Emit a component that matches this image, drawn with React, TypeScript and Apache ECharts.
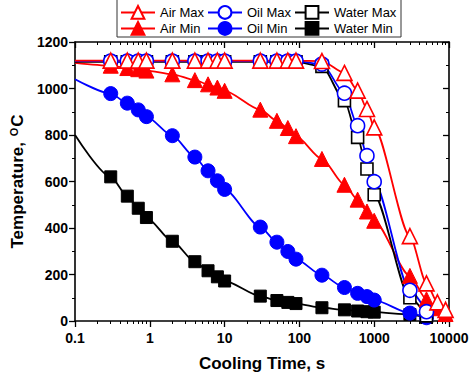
import React, { useEffect, useRef } from "react";
import * as echarts from "echarts";

// Cooling times (s)
const timesAir = [0.1, 0.3, 0.5, 0.7, 0.9, 2, 4, 6, 8, 10, 30, 50, 70, 90, 200, 400, 600, 800, 1000, 3000, 5000, 7000, 9000];
const timesOil = [0.1, 0.3, 0.5, 0.7, 0.9, 2, 4, 6, 8, 10, 30, 50, 70, 90, 200, 400, 600, 800, 1000, 3000, 5000];
const timesWater = [0.1, 0.3, 0.5, 0.7, 0.9, 2, 4, 6, 8, 10, 30, 50, 70, 90, 200, 400, 600, 800, 1000, 3000, 5000];

// Temperatures (°C)
const airMax = [1120, 1120, 1120, 1120, 1120, 1120, 1120, 1120, 1120, 1120, 1120, 1120, 1120, 1120, 1118, 1067, 991, 912, 833, 365, 162, 80, 48];
const airMin = [1110, 1098, 1088, 1083, 1077, 1061, 1036, 1018, 1004, 990, 909, 861, 830, 795, 697, 586, 522, 471, 431, 194, 93, 55, 30];
const oilMax = [1118, 1118, 1118, 1118, 1118, 1118, 1118, 1118, 1118, 1118, 1118, 1118, 1118, 1118, 1105, 980, 840, 711, 599, 132, 40];
const oilMin = [1040, 978, 937, 908, 879, 797, 705, 646, 603, 566, 404, 339, 299, 266, 197, 144, 119, 105, 90, 34, 14];
const waterMax = [1115, 1115, 1115, 1115, 1115, 1115, 1115, 1115, 1115, 1115, 1115, 1115, 1115, 1115, 1095, 948, 790, 654, 543, 100, 22];
const waterMin = [800, 620, 537, 485, 445, 343, 255, 216, 190, 172, 107, 88, 80, 75, 57, 48, 43, 40, 38, 28, 15];

// Tick positions for the log time axis (decades and their minor subdivisions)
const xMajorTicks = [0.1, 1, 10, 100, 1000, 10000];
const xMinorTicks = [0.2, 0.3, 0.4, 0.5, 0.6, 0.7, 0.8, 0.9, 2, 3, 4, 5, 6, 7, 8, 9, 20, 30, 40, 50, 60, 70, 80, 90, 200, 300, 400, 500, 600, 700, 800, 900, 2000, 3000, 4000, 5000, 6000, 7000, 8000, 9000];

const FONT = "'Liberation Sans', Arial, sans-serif";

function pts(times: number[], vals: number[]) {
  return times.map((t, i) => (i === 0 ? { value: [t, vals[i]], symbol: "none" } : [t, vals[i]]));
}

function mkSeries(name: string, times: number[], vals: number[], color: string, symbol: string, size: number, filled: boolean) {
  return {
    name,
    type: "line",
    xAxisIndex: 0,
    yAxisIndex: 0,
    data: pts(times, vals),
    symbol,
    symbolSize: size,
    smooth: 0.25,
    smoothMonotone: "x",
    clip: true,
    lineStyle: { color, width: 1.8 },
    itemStyle: filled
      ? { color, borderColor: color, borderWidth: 1 }
      : { color: "#ffffff", borderColor: color, borderWidth: 1.6 },
    emphasis: { disabled: true },
  };
}

export default function App() {
  const ref = useRef<HTMLDivElement>(null);
  useEffect(() => {
    if (!ref.current) return;
    const chart = echarts.init(ref.current, undefined, { renderer: "svg" });
    const lgMajor = xMajorTicks.map((v) => Math.log10(v));
    const lgMinor = xMinorTicks.map((v) => Math.log10(v));
    // decoration axes in log10 space (ticks only)
    const deco = { type: "value", min: -1, max: 4, gridIndex: 0, splitLine: { show: false }, axisLabel: { show: false } };
    const legendCommon = {
      itemWidth: 34,
      itemHeight: 16,
      itemGap: 0,
      padding: 0,
      selectedMode: false,
      textStyle: { fontSize: 13, fontFamily: FONT, color: "#000" },
    };
    chart.setOption({
      animation: false,
      backgroundColor: "#ffffff",
      grid: { left: 75, right: 24, top: 42, bottom: 59 },
      graphic: [
        {
          type: "rect",
          shape: { x: 117, y: -1, width: 284, height: 38 },
          style: { fill: "none", stroke: "#333", lineWidth: 1 },
          silent: true,
        },
      ],
      legend: [
        { ...legendCommon, data: ["Air Max"], left: 120, top: 5 },
        { ...legendCommon, data: ["Oil Max"], left: 207, top: 5 },
        { ...legendCommon, data: ["Water Max"], left: 294, top: 5 },
        { ...legendCommon, data: ["Air Min"], left: 120, top: 21 },
        { ...legendCommon, data: ["Oil Min"], left: 207, top: 21 },
        { ...legendCommon, data: ["Water Min"], left: 294, top: 21 },
      ],
      xAxis: [
        {
          type: "log",
          logBase: 10,
          min: 0.1,
          max: 10000,
          gridIndex: 0,
          position: "bottom",
          splitLine: { show: false },
          name: "Cooling Time, s",
          nameLocation: "middle",
          nameGap: 34,
          nameTextStyle: { fontSize: 17, fontWeight: "bold", fontFamily: FONT, color: "#000" },
          axisLine: { show: true, onZero: false, lineStyle: { color: "#000", width: 1.6 } },
          axisTick: { show: false },
          axisLabel: {
            show: true,
            margin: 10,
            fontSize: 14,
            fontWeight: "bold",
            fontFamily: FONT,
            color: "#000",
            formatter: (v: number) => String(parseFloat(Number(v).toPrecision(6))),
          },
        },
        {
          ...deco,
          position: "bottom",
          axisLine: { show: false, onZero: false },
          axisTick: { show: true, inside: false, length: 6, customValues: lgMajor, lineStyle: { color: "#000", width: 1.3 } },
        },
        {
          ...deco,
          position: "bottom",
          axisLine: { show: false, onZero: false },
          axisTick: { show: true, inside: false, length: 3, customValues: lgMinor, lineStyle: { color: "#000", width: 1 } },
        },
        {
          ...deco,
          position: "top",
          axisLine: { show: true, onZero: false, lineStyle: { color: "#000", width: 1.6 } },
          axisTick: { show: true, inside: true, length: 6, customValues: lgMajor, lineStyle: { color: "#000", width: 1.3 } },
        },
        {
          ...deco,
          position: "top",
          axisLine: { show: false, onZero: false },
          axisTick: { show: true, inside: true, length: 3, customValues: lgMinor, lineStyle: { color: "#000", width: 1 } },
        },
      ],
      yAxis: [
        {
          type: "value",
          min: 0,
          max: 1200,
          interval: 200,
          position: "left",
          name: "Temperature, {sup|O}C",
          nameLocation: "middle",
          nameGap: 41,
          nameRotate: 90,
          nameTextStyle: {
            fontSize: 17,
            fontWeight: "bold",
            fontFamily: FONT,
            color: "#000",
            rich: {
              sup: { fontSize: 11, fontWeight: "bold", fontFamily: FONT, color: "#000", verticalAlign: "top", padding: [0, 1, 8, 1] },
            },
          },
          splitLine: { show: false },
          axisLine: { show: true, onZero: false, lineStyle: { color: "#000", width: 1.6 } },
          axisTick: { show: true, inside: false, length: 6, lineStyle: { color: "#000", width: 1.3 } },
          minorTick: { show: true, splitNumber: 2, length: 3, lineStyle: { color: "#000", width: 1 } },
          axisLabel: {
            margin: 7,
            fontSize: 14,
            fontWeight: "bold",
            fontFamily: FONT,
            color: "#000",
            formatter: (v: number) => String(v),
          },
        },
        {
          type: "value",
          min: 0,
          max: 1200,
          interval: 200,
          position: "right",
          splitLine: { show: false },
          axisLine: { show: true, onZero: false, lineStyle: { color: "#000", width: 1.6 } },
          axisTick: { show: true, inside: true, length: 6, lineStyle: { color: "#000", width: 1.3 } },
          minorTick: { show: true, splitNumber: 2, length: 3, lineStyle: { color: "#000", width: 1 } },
          axisLabel: { show: false },
        },
      ],
      series: [
        mkSeries("Water Min", timesWater, waterMin, "#000000", "rect", 12, true),
        mkSeries("Oil Min", timesOil, oilMin, "#0000ff", "circle", 14, true),
        mkSeries("Air Min", timesAir, airMin, "#ff0000", "triangle", 15, true),
        mkSeries("Water Max", timesWater, waterMax, "#000000", "rect", 12, false),
        mkSeries("Oil Max", timesOil, oilMax, "#0000ff", "circle", 14, false),
        mkSeries("Air Max", timesAir, airMax, "#ff0000", "triangle", 15, false),
      ],
    });
    return () => chart.dispose();
  }, []);
  return <div ref={ref} style={{ position: "fixed", left: 0, top: 0, width: 473, height: 380, background: "#fff" }} />;
}
